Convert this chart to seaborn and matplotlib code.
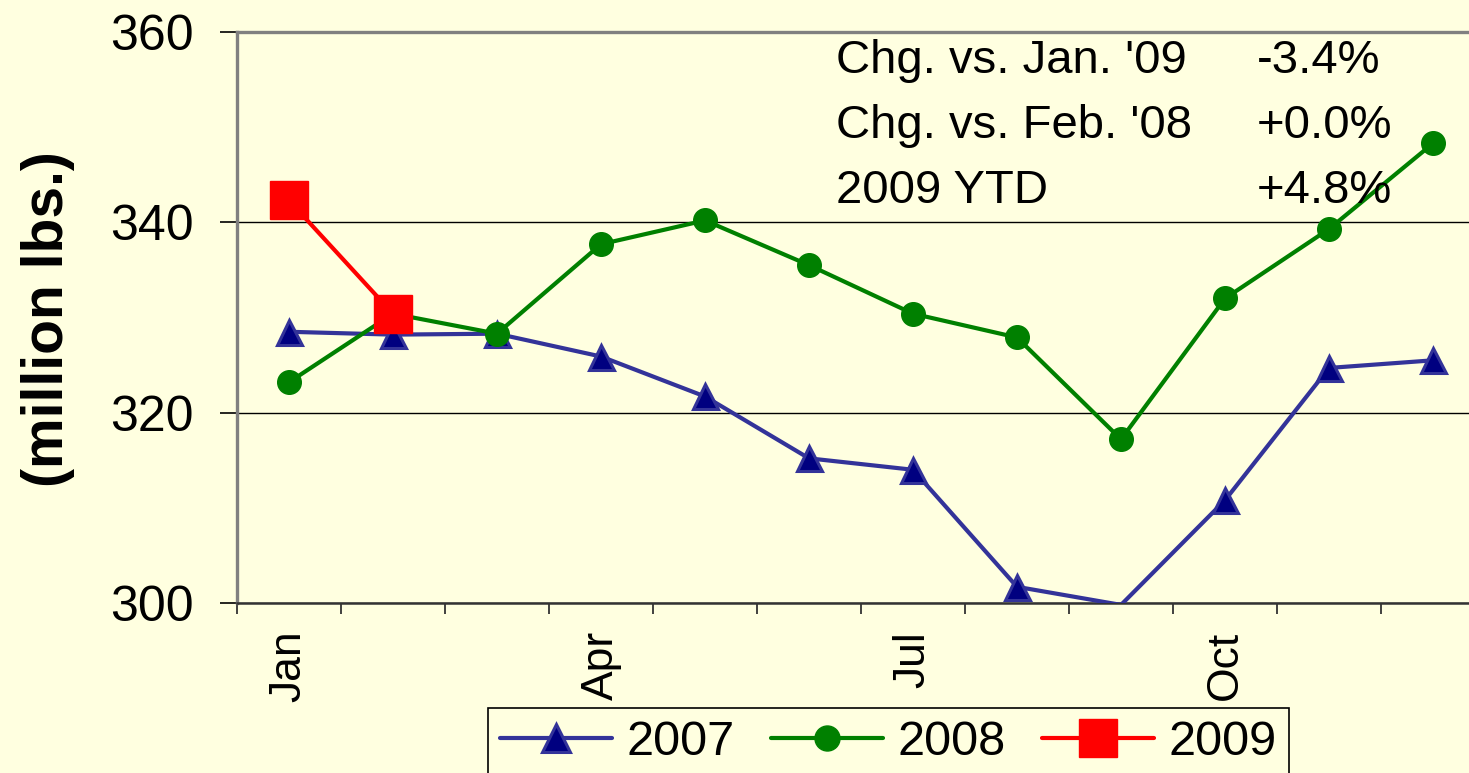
import numpy as np
import pandas as pd
import matplotlib
matplotlib.use('Agg')
import matplotlib.pyplot as plt
import seaborn as sns
from matplotlib.lines import Line2D

# ---- data ----
months = ['Jan', 'Feb', 'Mar', 'Apr', 'May', 'Jun', 'Jul', 'Aug', 'Sep', 'Oct', 'Nov', 'Dec']
tick_months = ['Jan', 'Apr', 'Jul', 'Oct']
vals_2007 = [328.5, 328.2, 328.3, 325.9, 321.7, 315.2, 314.0, 301.7, 299.8, 310.8, 324.7, 325.5]
vals_2008 = [323.2, 330.4, 328.3, 337.7, 340.2, 335.5, 330.4, 327.9, 317.2, 332.0, 339.3, 348.3]
vals_2009 = [342.3, 330.4]
series_names = ['2007', '2008', '2009']
y_ticks = [300, 320, 340, 360]
y_label = '(million lbs.)'
notes_left = ["Chg. vs. Jan. '09", "Chg. vs. Feb. '08", "2009 YTD"]
notes_right = ["-3.4%", "+0.0%", "+4.8%"]

BG = '#FFFFE0'
C07_LINE, C07_FILL = '#333399', '#000080'
C08 = '#008000'
C09 = '#FF0000'

sns.set_theme(style='white', rc={'text.color': 'black', 'axes.labelcolor': 'black',
                                 'xtick.color': 'black', 'ytick.color': 'black'})
plt.rcParams['font.family'] = ['Liberation Sans', 'DejaVu Sans']

W, H = 1469, 773
fig = plt.figure(figsize=(W / 100, H / 100), dpi=100, facecolor=BG)
ax = fig.add_axes([237 / W, 1 - 603 / H, 1248 / W, (603 - 32) / H])
ax.set_facecolor(BG)

df07 = pd.DataFrame({'m': np.arange(len(vals_2007)), 'v': vals_2007})
df08 = pd.DataFrame({'m': np.arange(len(vals_2008)), 'v': vals_2008})
df09 = pd.DataFrame({'m': np.arange(len(vals_2009)), 'v': vals_2009})

hidden = [i for i, v in enumerate(vals_2007) if v < y_ticks[0]]
sns.lineplot(data=df07, x='m', y='v', ax=ax, color=C07_LINE, linewidth=3,
             marker='^', markersize=18, markerfacecolor=C07_FILL,
             markeredgecolor=C07_LINE, markeredgewidth=2.2,
             markevery=[i for i in range(len(vals_2007)) if i not in hidden],
             zorder=3, legend=False)
sns.lineplot(data=df08, x='m', y='v', ax=ax, color=C08, linewidth=3,
             marker='o', markersize=17, markerfacecolor=C08,
             markeredgecolor=C08, markeredgewidth=1, zorder=4, legend=False)
sns.lineplot(data=df09, x='m', y='v', ax=ax, color=C09, linewidth=3,
             marker='s', markersize=28, markerfacecolor=C09,
             markeredgecolor=C09, markeredgewidth=1, zorder=5, legend=False)

ax.set_xlim(-0.5, len(months) - 0.5)
ax.set_ylim(y_ticks[0], y_ticks[-1])
ax.set_yticks(y_ticks)
ax.set_yticklabels([str(t) for t in y_ticks], fontsize=36)
ax.set_xticks([months.index(m) for m in tick_months])
ax.set_xticklabels(tick_months, rotation=90, fontsize=32, va='top', ha='center')
ax.set_xticks(np.arange(-0.5, len(months), 1), minor=True)
ax.tick_params(axis='x', which='major', length=0, pad=20, labelcolor='black')
ax.tick_params(axis='x', which='minor', length=8, width=1.3, color='#333333', direction='out', bottom=True)
ax.tick_params(axis='y', which='major', length=12, width=1.2, color='black', direction='out',
               pad=19, left=True, labelcolor='black')
ax.set_xlabel('')
ax.set_ylabel('')

ax.yaxis.grid(True, color='black', linewidth=1)
ax.xaxis.grid(False)
ax.set_axisbelow(True)

for s in ['left', 'top']:
    ax.spines[s].set_color('#808080')
    ax.spines[s].set_linewidth(2.4)
ax.spines['bottom'].set_color('#333333')
ax.spines['bottom'].set_linewidth(1.8)
ax.spines['right'].set_visible(False)

fig.text(48 / W, 1 - 319 / H, y_label, rotation=90, ha='center', va='center',
         fontsize=41, fontweight='bold', color='black')

baselines = [73, 138, 203]
for lt, rt, b in zip(notes_left, notes_right, baselines):
    fig.text(836 / W, 1 - b / H, lt, ha='left', va='baseline', fontsize=34, color='black')
    fig.text(1257 / W, 1 - b / H, rt, ha='left', va='baseline', fontsize=34, color='black')

handles = [
    Line2D([], [], color=C07_LINE, lw=3, marker='^', markersize=20,
           markerfacecolor=C07_FILL, markeredgecolor=C07_LINE, markeredgewidth=2.2),
    Line2D([], [], color=C08, lw=3, marker='o', markersize=18,
           markerfacecolor=C08, markeredgecolor=C08),
    Line2D([], [], color=C09, lw=3, marker='s', markersize=27,
           markerfacecolor=C09, markeredgecolor=C09),
]
leg = fig.legend(handles, series_names, loc='upper left',
                 bbox_to_anchor=(488 / W, 1 - 708 / H), ncol=3, fontsize=35,
                 frameon=True, fancybox=False, edgecolor='black', facecolor=BG,
                 framealpha=1, borderpad=0.25, handlelength=2.3, handletextpad=0.3,
                 columnspacing=0.75, borderaxespad=0)
leg.get_frame().set_linewidth(1.2)
for t in leg.get_texts():
    t.set_color('black')

fig.savefig('out.png', dpi=100, facecolor=BG)
